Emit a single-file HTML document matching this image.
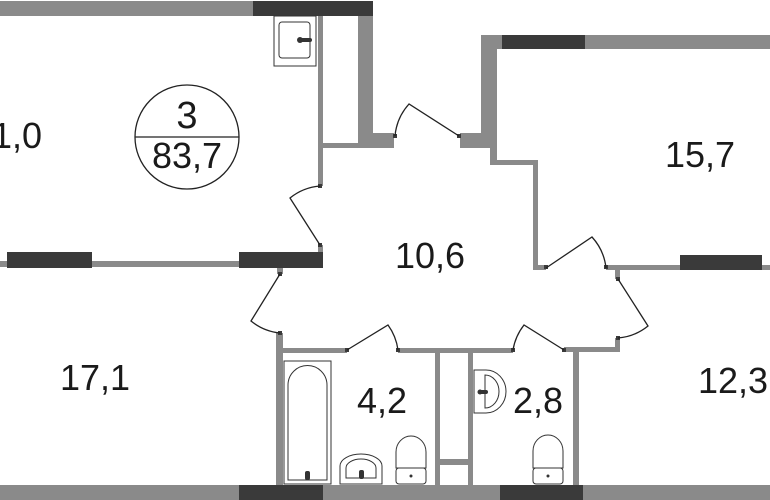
<!DOCTYPE html>
<html><head><meta charset="utf-8"><style>
html,body{margin:0;padding:0;background:#fff;}
svg{display:block;}
text{font-family:"Liberation Sans",sans-serif;fill:#1a1a1a;}
</style></head><body>
<svg width="770" height="500" viewBox="0 0 770 500" xmlns="http://www.w3.org/2000/svg">
<g fill="#8a8a8a">
<rect x="0" y="1" width="253" height="15"/>
<rect x="358" y="16" width="15" height="132"/>
<rect x="318" y="16" width="5" height="170"/>
<rect x="318" y="245" width="5" height="8"/>
<rect x="323" y="143" width="35" height="5"/>
<rect x="373" y="133" width="21" height="15"/>
<rect x="460" y="133" width="21" height="15"/>
<rect x="481" y="35" width="21" height="14"/>
<rect x="585" y="35" width="185" height="14"/>
<rect x="481" y="49" width="16" height="99"/>
<rect x="490" y="148" width="7" height="14"/>
<rect x="490" y="160" width="48" height="5"/>
<rect x="533" y="160" width="5" height="110"/>
<rect x="533" y="265" width="13" height="5"/>
<rect x="606" y="265" width="74" height="5"/>
<rect x="762" y="265" width="8" height="5"/>
<rect x="615" y="270" width="5" height="9"/>
<rect x="615" y="338" width="5" height="14"/>
<rect x="0" y="261" width="7" height="6"/>
<rect x="92" y="261" width="147" height="6"/>
<rect x="277" y="268" width="6" height="6"/>
<rect x="276" y="333" width="7" height="152"/>
<rect x="283" y="348" width="64" height="5"/>
<rect x="398" y="348" width="115" height="5"/>
<rect x="564" y="347" width="56" height="5"/>
<rect x="435" y="353" width="5" height="132"/>
<rect x="468" y="353" width="5" height="132"/>
<rect x="440" y="459" width="28" height="6"/>
<rect x="573" y="352" width="6" height="133"/>
<rect x="0" y="485" width="239" height="15"/>
<rect x="323" y="485" width="177" height="15"/>
<rect x="583" y="485" width="187" height="15"/>
</g>
<g fill="#3a3a3a">
<rect x="253" y="1" width="120" height="15"/>
<rect x="502" y="35" width="83" height="14"/>
<rect x="680" y="255" width="82" height="15"/>
<rect x="7" y="252" width="85" height="16"/>
<rect x="239" y="252" width="84" height="16"/>
<rect x="239" y="485" width="84" height="15"/>
<rect x="500" y="485" width="83" height="15"/>
<rect x="318" y="184" width="4" height="4"/>
<rect x="318" y="243" width="4" height="4"/>
<rect x="393" y="134" width="4" height="4"/>
<rect x="457" y="134" width="4" height="4"/>
<rect x="544" y="265" width="4" height="4"/>
<rect x="604" y="265" width="4" height="4"/>
<rect x="616" y="277" width="4" height="4"/>
<rect x="616" y="336" width="4" height="4"/>
<rect x="278" y="272" width="4" height="4"/>
<rect x="278" y="331" width="4" height="4"/>
<rect x="345" y="348" width="4" height="4"/>
<rect x="396" y="348" width="4" height="4"/>
<rect x="511" y="348" width="4" height="4"/>
<rect x="562" y="348" width="4" height="4"/>
</g>
<g fill="none" stroke="#222" stroke-width="1.3">
<path d="M320 245 L290 198 A55 55 0 0 1 320 186"/>
<path d="M459 136 L409 104 A55 55 0 0 0 395 136"/>
<path d="M546 268 L592 237 A55 55 0 0 1 606 268"/>
<path d="M618 279 L648 326 A55 55 0 0 1 618 338"/>
<path d="M280 274 L251 321 A55 55 0 0 0 280 333"/>
<path d="M347 350 L388 325 A55 55 0 0 1 398 350"/>
<path d="M564 350 L524 325 A55 55 0 0 0 513 350"/>
<circle cx="187" cy="137" r="52"/>
<line x1="135" y1="137" x2="239" y2="137"/>
</g>
<g fill="#fff" stroke="#333" stroke-width="1">
<rect x="274" y="16" width="42" height="50"/>
<rect x="279" y="22" width="31" height="36" rx="3"/>
<rect x="284" y="361" width="47" height="123"/>
<path d="M288 480 L288 385 A15 15 0 0 1 327 385 L327 480 Z"/>
<path d="M340 484 L340 466 A21 12 0 0 1 382 466 L382 484 Z"/>
<path d="M346 478 L346 468 A15 9 0 0 1 376 468 L376 478 Z"/>
<path d="M396 468 L396 452 A15 16 0 0 1 426 452 L426 468 Z"/>
<rect x="396" y="468" width="30" height="16" rx="3"/>
<path d="M474 370 L486 370 A20 21.5 0 0 1 486 413 L474 413 Z"/>
<path d="M485 375 L485 408 A14 16.5 0 0 0 485 375 Z"/>
<path d="M533 468 L533 451 A15 16 0 0 1 563 451 L563 468 Z"/>
<rect x="533" y="468" width="30" height="16" rx="3"/>
</g>
<g fill="#333">
<circle cx="300" cy="40" r="3"/><rect x="300" y="38" width="12" height="4" rx="2"/>
<rect x="305" y="471" width="5" height="9" rx="2"/>
<rect x="359" y="470" width="5" height="9" rx="2"/>
<circle cx="411" cy="476" r="1.5"/>
<circle cx="548" cy="476" r="1.5"/>
<circle cx="480" cy="392" r="2.5"/><rect x="480" y="390" width="8" height="4" rx="2"/>
</g>
<g font-size="36">
<text x="187" y="128" text-anchor="middle" font-size="38">3</text>
<text x="187" y="168" text-anchor="middle">83,7</text>
<text x="-8" y="148">1,0</text>
<text x="430" y="268" text-anchor="middle">10,6</text>
<text x="700" y="167" text-anchor="middle">15,7</text>
<text x="95" y="390" text-anchor="middle">17,1</text>
<text x="382" y="413" text-anchor="middle">4,2</text>
<text x="538" y="413" text-anchor="middle">2,8</text>
<text x="733" y="393" text-anchor="middle">12,3</text>
</g>
</svg>
</body></html>
